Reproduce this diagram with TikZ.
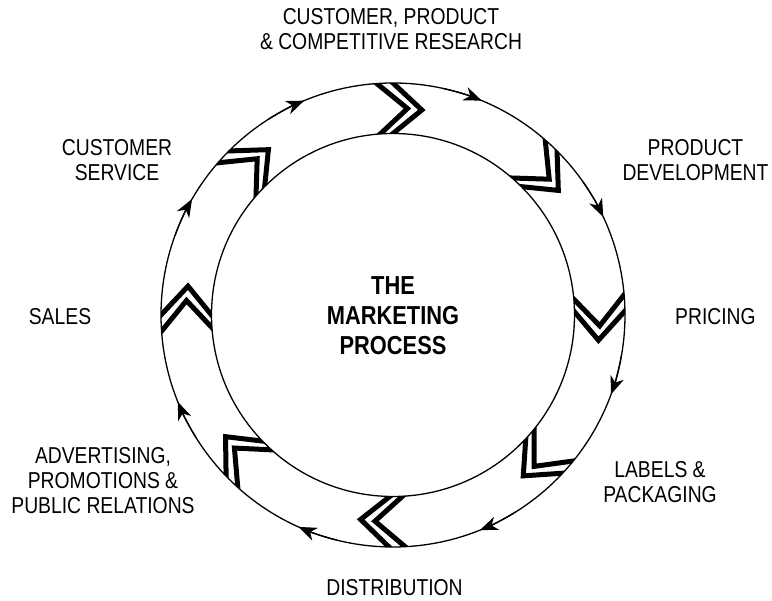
\documentclass[tikz,border=0pt]{standalone}
\usepackage{fontspec}
\setmainfont{Liberation Sans}[FakeStretch=0.84]
\usetikzlibrary{arrows.meta,calc}
\begin{document}
\begin{tikzpicture}[x=1pt,y=1pt,
  lbl/.style={font=\fontsize{23}{25}\selectfont, align=center, inner sep=0pt},
  ttl/.style={font=\bfseries\fontsize{26}{30}\selectfont, align=center, inner sep=0pt},
  ring/.style={line width=1.3pt},
  chev/.style={line width=5pt, line join=miter, miter limit=10},
  tipped/.style={-{Stealth[length=18pt,width=14pt,inset=5.5pt]}}]
\useasboundingbox (0,0) rectangle (772,601);
\def\Ro{232}\def\Ri{181.5}\def\Rm{207}
\coordinate (C) at (393,286);
% chevrons, clipped to the ring
\begin{scope}[even odd rule]
  \clip (C) circle[radius=\Ro] (C) circle[radius=\Ri];
  \foreach \t in {90,45,1,-43,-91,-136,180,135} {
    \foreach \d in {4,0} {
      \path (C) ++({\t+\d}:\Ro) coordinate (vo);
      \path (C) ++({\t+\d}:\Ri) coordinate (vi);
      \path (C) ++({\t+\d-8}:\Rm) coordinate (vt);
      \draw[chev] ($(vt)!1.4!(vo)$) -- (vt) -- ($(vt)!1.4!(vi)$);
    }
  }
\end{scope}
\draw[ring] (C) circle[radius=\Ro];
\draw[ring] (C) circle[radius=\Ri];
% arrows on the outer circle
\foreach \a in {150,112.5,67.5,25,-20,-68,-114,-158} {
  \draw[ring,tipped] (C) ++({\a+10}:\Ro) arc[start angle={\a+10}, end angle=\a, radius=\Ro];
}
% labels
\node[lbl] (research) at (391,571.5) {CUSTOMER, PRODUCT\\\& COMPETITIVE RESEARCH};
\node[lbl] (develop) at (695.5,441) {PRODUCT\\DEVELOPMENT};
\node[lbl,anchor=west] (pricing) at (675,284.5) {PRICING};
\node[lbl] (labels) at (660,119) {LABELS \&\\PACKAGING};
\node[lbl] (distrib) at (394.5,13) {DISTRIBUTION};
\node[lbl] (advert) at (103,120) {ADVERTISING,\\PROMOTIONS \&\\PUBLIC RELATIONS};
\node[lbl] (sales) at (60,284) {SALES};
\node[lbl] (service) at (117,441) {CUSTOMER\\SERVICE};
\node[ttl] (title) at (393,285) {THE\\MARKETING\\PROCESS};
\end{tikzpicture}
\end{document}
